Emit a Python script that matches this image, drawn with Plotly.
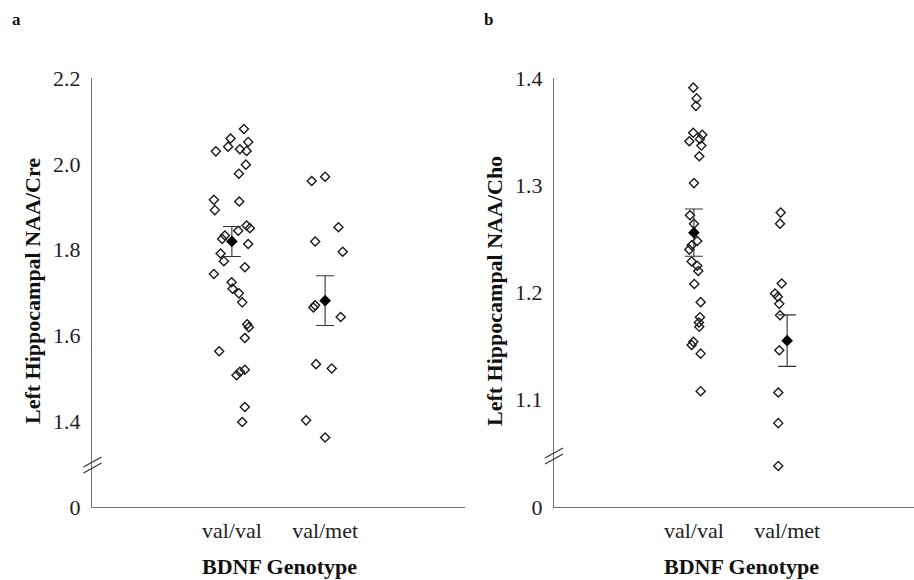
import plotly.graph_objects as go

# ---------------- data ----------------
categories = ["val/val", "val/met"]
cat_pos = [1, 2]

# Panel a: Left Hippocampal NAA/Cre
a_valval = [2.081, 2.059, 2.051, 2.040, 2.029, 2.034, 2.030, 1.998, 1.977, 1.916,
            1.912, 1.892, 1.856, 1.850, 1.844, 1.833, 1.825, 1.813, 1.791, 1.773,
            1.743, 1.759, 1.724, 1.709, 1.698, 1.677, 1.626, 1.619, 1.594, 1.563,
            1.507, 1.515, 1.520, 1.433, 1.398]
a_valval_jit = [0.129, -0.014, 0.175, -0.040, -0.172, 0.086, 0.158, 0.150, 0.075, -0.193,
                0.079, -0.182, 0.158, 0.193, 0.068, -0.075, -0.104, 0.175, -0.121, -0.086,
                -0.193, 0.139, -0.003, 0.007, 0.075, 0.111, 0.164, 0.182, 0.139, -0.136,
                0.050, 0.086, 0.139, 0.139, 0.111]
a_valmet = [1.960, 1.970, 1.852, 1.819, 1.795, 1.665, 1.670, 1.643, 1.533, 1.523, 1.402, 1.362]
a_valmet_jit = [-0.144, 0.000, 0.143, -0.107, 0.189, -0.126, -0.108, 0.167, -0.097, 0.071, -0.204, 0.000]
a_means = [1.819, 1.681]
a_sem = [0.035, 0.058]

# Panel b: Left Hippocampal NAA/Cho
b_valval = [1.391, 1.381, 1.374, 1.349, 1.347, 1.341, 1.343, 1.337, 1.327, 1.302,
            1.272, 1.264, 1.248, 1.244, 1.240, 1.229, 1.225, 1.220, 1.208, 1.191,
            1.177, 1.172, 1.168, 1.154, 1.151, 1.143, 1.108]
b_valval_jit = [-0.006, 0.030, 0.023, -0.007, 0.090, -0.049, 0.065, 0.080, 0.058, 0.001,
                -0.042, 0.001, 0.036, -0.024, -0.049, -0.024, 0.036, 0.047, 0.005, 0.073,
                0.065, 0.054, 0.058, -0.006, -0.024, 0.073, 0.073]
b_valmet = [1.2745, 1.2642, 1.2084, 1.1990, 1.1960, 1.1894, 1.1788, 1.1461, 1.1068, 1.0782, 1.0383]
b_valmet_jit = [-0.069, -0.076, -0.058, -0.130, -0.100, -0.084, -0.076, -0.084, -0.095, -0.095, -0.095]
b_means = [1.2558, 1.1551]
b_sem = [0.022, 0.024]

a_ticks = [1.2, 1.4, 1.6, 1.8, 2.0, 2.2]
a_ticktext = ["0", "1.4", "1.6", "1.8", "2.0", "2.2"]
b_ticks = [1.0, 1.1, 1.2, 1.3, 1.4]
b_ticktext = ["0", "1.1", "1.2", "1.3", "1.4"]

# ---------------- figure ----------------
W, H = 914, 580
MT, MB = 78, 73
PH = H - MT - MB
FONT = "Liberation Serif, Times New Roman, serif"
AXCOL = "#707070"
MK = "#1a1a1a"

def px_x(p):
    return p / W

def px_y(p):
    return (H - MB - p) / PH

fig = go.Figure()

open_marker = dict(symbol="diamond-open", size=7, color=MK, line=dict(width=1.4, color=MK))
mean_marker = dict(symbol="diamond", size=9, color="#000000")

def add_panel(xa, ya, vv, vvj, vm, vmj, means, sem):
    fig.add_trace(go.Scatter(x=[cat_pos[0] + j for j in vvj], y=vv, mode="markers",
                             marker=open_marker, xaxis=xa, yaxis=ya, showlegend=False))
    fig.add_trace(go.Scatter(x=[cat_pos[1] + j for j in vmj], y=vm, mode="markers",
                             marker=open_marker, xaxis=xa, yaxis=ya, showlegend=False))
    fig.add_trace(go.Scatter(x=cat_pos, y=means, mode="markers", marker=mean_marker,
                             error_y=dict(type="data", array=sem, visible=True,
                                          color="#333333", thickness=1.1, width=9),
                             xaxis=xa, yaxis=ya, showlegend=False))

add_panel("x", "y", a_valval, a_valval_jit, a_valmet, a_valmet_jit, a_means, a_sem)
add_panel("x2", "y2", b_valval, b_valval_jit, b_valmet, b_valmet_jit, b_means, b_sem)

common_x = dict(tickvals=cat_pos, ticktext=categories, showgrid=False, zeroline=False,
                showline=True, linecolor=AXCOL, linewidth=1.2, ticks="",
                tickfont=dict(family=FONT, size=22, color="#222222"),
                ticklabelstandoff=3)
common_y = dict(showgrid=False, zeroline=False, showline=True, linecolor=AXCOL,
                linewidth=1.2, ticks="", tickfont=dict(family=FONT, size=22, color="#222222"),
                ticklabelstandoff=6, domain=[0, 1])

fig.update_layout(
    width=W, height=H,
    margin=dict(l=0, r=0, t=MT, b=MB),
    paper_bgcolor="white", plot_bgcolor="white",
    xaxis=dict(domain=[92 / W, 465 / W], range=[-0.5, 3.5], anchor="y", **common_x),
    yaxis=dict(range=[1.2, 2.2], tickvals=a_ticks, ticktext=a_ticktext, anchor="x", **common_y),
    xaxis2=dict(domain=[554 / W, 1.0], range=[-0.5, -0.5 + (W - 554) / 93.25], anchor="y2", **common_x),
    yaxis2=dict(range=[1.0, 1.4], tickvals=b_ticks, ticktext=b_ticktext, anchor="x2", **common_y),
)

ann = []
def add_text(text, x, y, size, bold=True, angle=0):
    ann.append(dict(text=f"<b>{text}</b>" if bold else text, x=px_x(x), y=px_y(y),
                    xref="paper", yref="paper", showarrow=False, textangle=angle,
                    xanchor="center", yanchor="middle",
                    font=dict(family=FONT, size=size, color="#111111")))

add_text("a", 16, 20, 17)
add_text("b", 488, 20, 17)
add_text("Left Hippocampal NAA/Cre", 32, 291, 22, angle=-90)
add_text("Left Hippocampal NAA/Cho", 494, 291, 22, angle=-90)
add_text("BDNF Genotype", 279, 566, 22)
add_text("BDNF Genotype", 741, 566, 22)
fig.update_layout(annotations=ann)

# axis break marks "//"
shapes = []
for cx, cy in [(92.5, 465), (554, 456)]:
    for dy in (3, -3):
        shapes.append(dict(type="line", xref="paper", yref="paper",
                           x0=px_x(cx - 9), y0=px_y(cy + 5 + dy),
                           x1=px_x(cx + 9), y1=px_y(cy - 5 + dy),
                           line=dict(color="#333333", width=1.2)))
fig.update_layout(shapes=shapes)

fig.write_html("out.html", config={"displayModeBar": False},
               post_script="document.body.style.margin='0';")
